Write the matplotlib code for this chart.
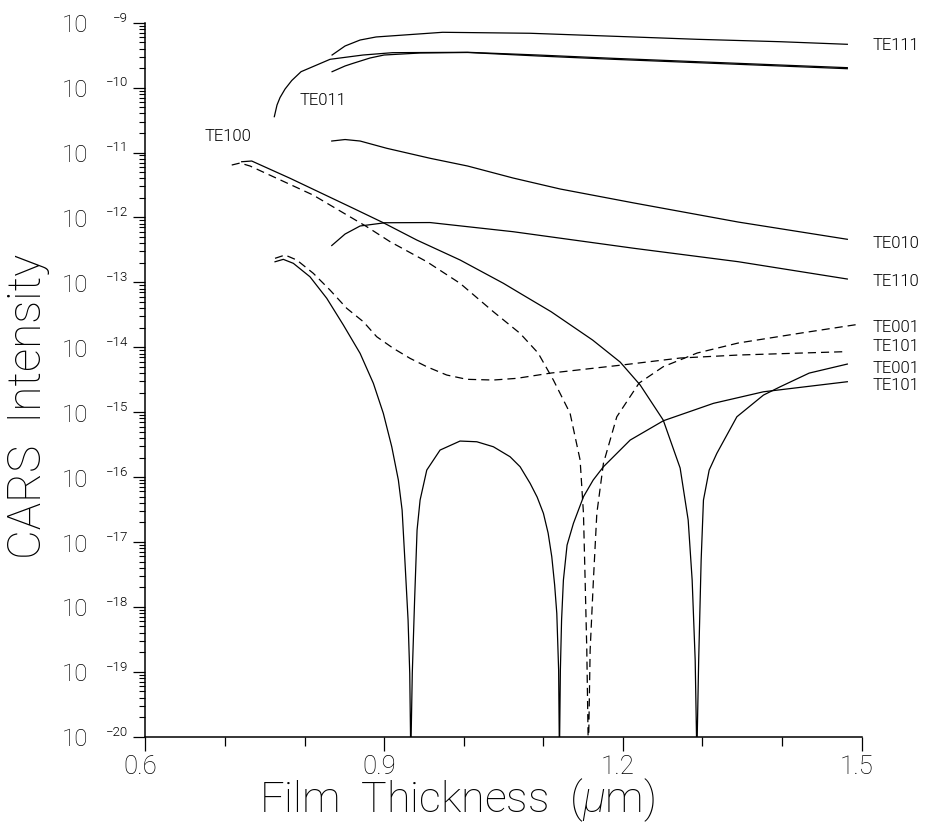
import matplotlib
matplotlib.use("Agg")
import matplotlib.pyplot as plt
import numpy as np
from matplotlib.transforms import ScaledTranslation

# film thickness (um) and log10(CARS intensity)
te111_x = [0.8345, 0.8508, 0.8697, 0.8898, 0.9734, 1.0834, 1.2040, 1.2933, 1.3976, 1.482]
te111_log = [-9.498, -9.359, -9.267, -9.220, -9.148, -9.163, -9.216, -9.256, -9.293, -9.333]

te011_x = [0.7619, 0.7653, 0.7691, 0.7754, 0.7838, 0.7955, 0.8320, 0.8734, 0.9105, 1.0048,
           1.0934, 1.1877, 1.2933, 1.3976, 1.482]
te011_log = [-10.448, -10.268, -10.153, -10.022, -9.891, -9.755, -9.564, -9.498, -9.462, -9.456,
             -9.498, -9.549, -9.601, -9.652, -9.693]

te011b_x = [0.8345, 0.8508, 0.8609, 0.8822, 0.8998, 0.9451, 1.0048, 1.0934, 1.1877, 1.2933, 1.3976, 1.482]
te011b_log = [-9.755, -9.667, -9.626, -9.544, -9.498, -9.467, -9.459, -9.513, -9.564, -9.616, -9.667, -9.709]

te010_x = [0.8341, 0.8508, 0.8697, 0.9032, 0.9577, 1.0048, 1.0620, 1.1211, 1.2141, 1.3448, 1.482]
te010_log = [-10.823, -10.800, -10.823, -10.935, -11.089, -11.208, -11.393, -11.562, -11.778, -12.071, -12.337]

te110_x = [0.8341, 0.8508, 0.8697, 0.9011, 0.9577, 1.0620, 1.2141, 1.3448, 1.482]
te110_log = [-12.433, -12.256, -12.132, -12.082, -12.079, -12.220, -12.476, -12.682, -12.949]

# TE100 solid: falls through a zero near 1.29 and comes back up as TE001
te100_x = [0.7209, 0.7335, 0.7817, 0.8612, 0.8989, 0.9409, 0.9954, 1.0498, 1.0708, 1.1098,
           1.1619, 1.1965, 1.2217, 1.2506, 1.2719, 1.2820, 1.2870, 1.2908, 1.2929, 1.2952,
           1.2983, 1.3012, 1.3084, 1.3180, 1.3432, 1.3766, 1.3976, 1.4341, 1.482]
te100_log = [-11.142, -11.131, -11.397, -11.860, -12.082, -12.348, -12.656, -13.015, -13.169, -13.453,
             -13.889, -14.228, -14.582, -15.121, -15.861, -16.662, -17.587, -18.819, -20.3, -18.819,
             -17.279, -16.354, -15.892, -15.635, -15.071, -14.737, -14.609, -14.398, -14.259]

# lower solid curve: two zeros, ends as TE101
te101_x = [0.7628, 0.7732, 0.7858, 0.8067, 0.8278, 0.8487, 0.8697, 0.8864, 0.8989, 0.9095,
           0.9178, 0.9225, 0.9262, 0.9300, 0.9321, 0.9334, 0.9353, 0.9382, 0.9413, 0.9451,
           0.9535, 0.9702, 0.9953, 1.0164, 1.0372, 1.0582, 1.0708, 1.0834, 1.0922, 1.1001,
           1.1060, 1.1106, 1.1142, 1.1169, 1.1192, 1.1202, 1.1214, 1.1229, 1.1252, 1.1298,
           1.1378, 1.1504, 1.1626, 1.1755, 1.2091, 1.2509, 1.3138, 1.3766, 1.482]
te101_log = [-12.683, -12.646, -12.707, -12.914, -13.246, -13.658, -14.094, -14.556, -15.018, -15.533,
             -16.046, -16.508, -17.330, -18.203, -19.024, -20.3, -19.019, -17.895, -16.816, -16.354,
             -15.892, -15.584, -15.445, -15.456, -15.533, -15.687, -15.841, -16.097, -16.308, -16.559,
             -16.863, -17.228, -17.664, -18.100, -18.973, -20.3, -18.973, -18.203, -17.587, -17.048,
             -16.713, -16.303, -16.046, -15.841, -15.430, -15.132, -14.864, -14.686, -14.531]

# dashed curves
te100d_x = [0.7084, 0.7188, 0.7314, 0.8106, 0.8781, 0.9074, 0.9535, 0.9953, 1.0372, 1.0707,
            1.0934, 1.1126, 1.1336, 1.1462, 1.1504, 1.1525, 1.1546, 1.1566, 1.1588, 1.1629,
            1.1672, 1.1755, 1.1923, 1.2203, 1.2506, 1.2933, 1.3448, 1.4240, 1.4957]
te100d_log = [-11.193, -11.162, -11.208, -11.655, -12.143, -12.374, -12.682, -13.015, -13.453, -13.786,
              -14.089, -14.505, -15.018, -15.738, -16.559, -17.587, -18.666, -20.3, -18.666, -17.587,
              -16.559, -15.789, -15.071, -14.552, -14.300, -14.089, -13.935, -13.781, -13.647]

te101d_x = [0.7628, 0.7754, 0.7901, 0.8109, 0.8319, 0.8529, 0.8738, 0.8906, 0.9115, 0.9325,
            0.9535, 0.9786, 1.0038, 1.0372, 1.0666, 1.1098, 1.1986, 1.2719, 1.3448, 1.4768]
te101d_log = [-12.630, -12.579, -12.656, -12.861, -13.119, -13.400, -13.607, -13.838, -14.017, -14.171,
              -14.300, -14.428, -14.494, -14.505, -14.479, -14.397, -14.274, -14.166, -14.120, -14.069]

right_labels = ["TE111", "TE010", "TE110", "TE001", "TE101", "TE001", "TE101"]
right_label_log = [-9.344, -12.395, -12.980, -13.689, -13.981, -14.320, -14.582]
inner_labels = ["TE100", "TE011"]
inner_label_x = [0.6748, 0.7942]
inner_label_log = [-10.761, -10.206]

decades = list(range(-20, -8))
x_major = [0.6, 0.9, 1.2, 1.5]

plt.rcParams["font.family"] = "Roboto"
plt.rcParams["mathtext.fontset"] = "custom"
plt.rcParams["mathtext.it"] = "Roboto:italic:light"
plt.rcParams["mathtext.rm"] = "Roboto:light"
THIN = 250
LIGHT = 300

fig = plt.figure(figsize=(9.29, 8.25), dpi=100)
ax = fig.add_axes([0.1566, 0.1070, 0.7709, 0.8655])

solid = dict(color="black", lw=0.9)
dashed = dict(color="black", lw=0.9, ls=(0, (6.5, 4)))
for xs, ls_, st in [(te111_x, te111_log, solid), (te011_x, te011_log, solid),
                    (te011b_x, te011b_log, solid), (te010_x, te010_log, solid),
                    (te110_x, te110_log, solid), (te100_x, te100_log, solid),
                    (te101_x, te101_log, solid), (te100d_x, te100d_log, dashed),
                    (te101d_x, te101d_log, dashed)]:
    ax.plot(xs, 10.0 ** np.array(ls_), **st)

ax.set_yscale("log")
ax.set_xlim(0.6, 1.5)
ax.set_ylim(1e-20, 1e-9)
ax.spines["top"].set_visible(False)
ax.spines["right"].set_visible(False)
ax.spines["left"].set_linewidth(1.1)
ax.spines["bottom"].set_linewidth(1.1)

ax.set_xticks(x_major)
ax.set_xticklabels([f"{v:.1f}" for v in x_major], fontweight=THIN)
ax.set_xticks(np.arange(0.7, 1.45, 0.1), minor=True)
ax.tick_params(axis="x", which="major", direction="out", length=10, width=0.9,
               labelsize=18.5, pad=3.5)
ax.tick_params(axis="x", which="minor", direction="out", length=6.5, width=0.9)
for lab in ax.get_xticklabels():
    lab.set_transform(lab.get_transform() + ScaledTranslation(-0.05, 0, fig.dpi_scale_trans))

ax.set_yticks([10.0 ** d for d in decades])
ax.yaxis.set_minor_locator(matplotlib.ticker.LogLocator(base=10, subs=np.arange(2, 10), numticks=100))
ax.yaxis.set_minor_formatter(matplotlib.ticker.NullFormatter())
ax.set_yticklabels([])
ax.tick_params(axis="y", which="major", direction="out", length=9, width=0.9)
ax.tick_params(axis="y", which="minor", direction="out", length=4.5, width=0.8)

ytr = ax.get_yaxis_transform()
for d in decades:
    ax.annotate("10", xy=(0, 10.0 ** d), xycoords=ytr, xytext=(-41.4, -2.2),
                textcoords="offset points", ha="right", va="center", fontsize=17.5,
                fontweight=THIN, annotation_clip=False)
    ax.annotate("\u2212" + str(-d), xy=(0, 10.0 ** d), xycoords=ytr, xytext=(-12.4, 0.8),
                textcoords="offset points", ha="right", va="baseline", fontsize=9.5,
                fontweight=LIGHT, annotation_clip=False)

for lab, lv in zip(right_labels, right_label_log):
    ax.text(1.5133, 10.0 ** lv, lab, ha="left", va="center", fontsize=12,
            fontweight=LIGHT, clip_on=False)
for lab, xv, lv in zip(inner_labels, inner_label_x, inner_label_log):
    ax.text(xv, 10.0 ** lv, lab, ha="left", va="center", fontsize=12, fontweight=LIGHT)

ax.set_xlabel(r"Film  Thickness  ($\mu$m)", fontsize=31, fontweight=THIN, va="center")
ax.xaxis.set_label_coords(0.435, -0.0885)
ax.set_ylabel("CARS  Intensity", fontsize=33, fontweight=THIN, va="center")
ax.yaxis.set_label_coords(-0.164, 0.463)

fig.savefig("out.png", dpi=100)
